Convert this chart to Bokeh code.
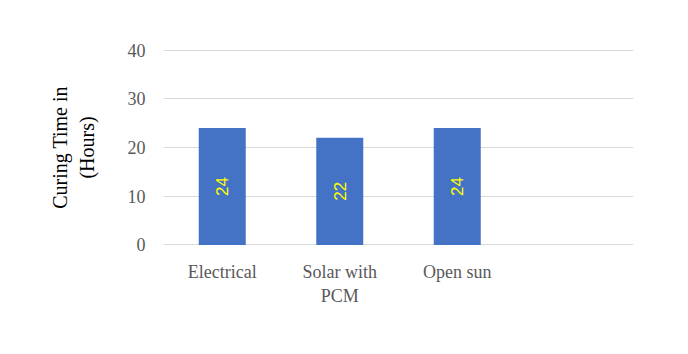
from bokeh.plotting import figure
from bokeh.models import ColumnDataSource, Range1d, FixedTicker
from bokeh.core.properties import value
from bokeh.embed import file_html
from bokeh.resources import INLINE

categories = ["Electrical", "Solar with\nPCM", "Open sun"]
curing_hours = [24, 22, 24]
y_ticks = [0, 10, 20, 30, 40]

xs = [i + 1 for i in range(len(categories))]
source = ColumnDataSource(dict(
    x=xs,
    top=curing_hours,
    mid=[v / 2 for v in curing_hours],
    label=[str(v) for v in curing_hours],
))

p = figure(width=688, height=354, output_backend="svg", toolbar_location=None,
           x_range=Range1d(0.5, 4.5), y_range=Range1d(-0.12, 40.12),
           min_border_left=163, min_border_right=55, min_border_top=49, min_border_bottom=109)
p.outline_line_color = None
p.background_fill_color = "white"
p.border_fill_color = "white"

p.vbar(x="x", top="top", width=0.4, source=source, fill_color="#4472C4", line_color=None)
p.text(x="x", y="mid", text="label", source=source, angle=1.5708,
       text_align="center", text_baseline="middle", text_color="#FFFF00",
       text_font=value("Liberation Sans"), text_font_size="17px")

serif = "Liberation Serif"
p.xgrid.grid_line_color = None
p.ygrid.grid_line_color = "#D9D9D9"
p.ygrid.ticker = FixedTicker(ticks=y_ticks)

p.yaxis.ticker = FixedTicker(ticks=y_ticks)
p.yaxis.axis_line_color = None
p.yaxis.major_tick_line_color = None
p.yaxis.minor_tick_line_color = None
p.yaxis.major_label_text_font = serif
p.yaxis.major_label_text_font_size = "18px"
p.yaxis.major_label_text_color = "#595959"
p.yaxis.major_label_standoff = 12
p.yaxis.axis_label = "Curing Time in\n(Hours)"
p.yaxis.axis_label_text_font = serif
p.yaxis.axis_label_text_font_size = "20px"
p.yaxis.axis_label_text_font_style = "normal"
p.yaxis.axis_label_text_color = "#000000"
p.yaxis.axis_label_standoff = 27

p.xaxis.ticker = FixedTicker(ticks=xs)
p.xaxis.major_label_overrides = {x: c for x, c in zip(xs, categories)}
p.xaxis.axis_line_color = None
p.xaxis.major_tick_line_color = None
p.xaxis.minor_tick_line_color = None
p.xaxis.major_label_text_font = serif
p.xaxis.major_label_text_font_size = "18px"
p.xaxis.major_label_text_color = "#595959"
p.xaxis.major_label_standoff = 10

open("out.html", "w").write(file_html(p, INLINE))
